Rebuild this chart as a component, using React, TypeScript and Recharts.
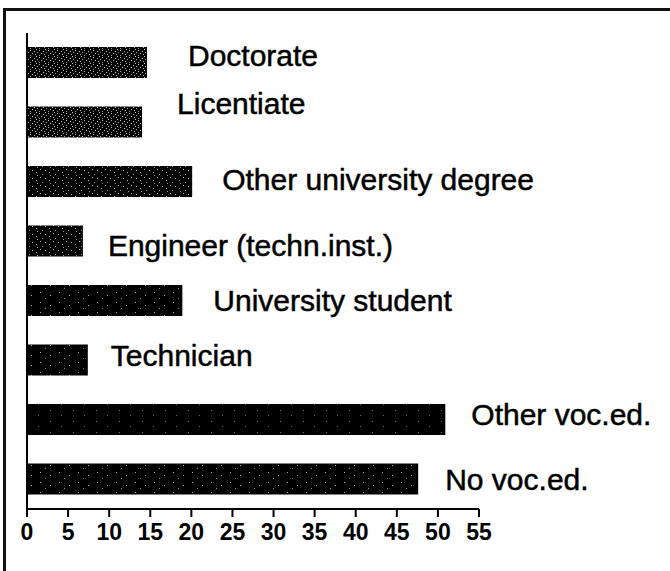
import { Bar, BarChart, Cell, LabelList, ReferenceLine, XAxis, YAxis } from 'recharts'

const categories = [
  'Doctorate',
  'Licentiate',
  'Other university degree',
  'Engineer (techn.inst.)',
  'University student',
  'Technician',
  'Other voc.ed.',
  'No voc.ed.',
]

const shares = [14.6, 14.0, 20.1, 6.8, 18.9, 7.4, 50.9, 47.6]

const xTicks = [0, 5, 10, 15, 20, 25, 30, 35, 40, 45, 50, 55]

// hand-placed labels in the original, nudged per bar: [gap after bar, vertical shift]
const labelShift: [number, number][] = [
  [41, -7],
  [35, -19],
  [30, -2],
  [25, 4],
  [31, 0],
  [23, -5],
  [26, -5],
  [27, 0],
]

const barPattern = ['dense', 'dense', 'medium', 'medium', 'sparse', 'sparse', 'solid', 'sparse']

const data = categories.map((label, i) => ({ label, value: shares[i] }))

const font = '"Liberation Sans", Arial, Helvetica, sans-serif'

function BarLabel(props: any) {
  const { x, y, width, height, value } = props
  const i = categories.indexOf(value)
  const [dx, dy] = labelShift[i] ?? [28, 0]
  return (
    <text
      x={Number(x) + Number(width) + dx}
      y={Number(y) + Number(height) / 2 + dy}
      dominantBaseline="central"
      fontSize={30}
      fontFamily={font}
      fill="#000"
      stroke="#000"
      strokeWidth={0.5}
    >
      {value}
    </text>
  )
}

export default function App() {
  return (
    <div style={{ position: 'absolute', left: 0, top: 0, width: 670, height: 571, background: '#fff' }}>
      <div
        style={{
          position: 'absolute',
          left: 3,
          top: 8,
          width: 667,
          height: 563,
          borderTop: '3px solid #111',
          borderLeft: '3px solid #111',
          boxSizing: 'border-box',
        }}
      />
      <div style={{ position: 'absolute', left: 0, top: 0 }}>
        <BarChart
          width={670}
          height={571}
          data={data}
          layout="vertical"
          margin={{ top: 33, right: 191, bottom: 22, left: 27 }}
        >
          <defs>
            <pattern id="dense" width="9" height="7" patternUnits="userSpaceOnUse">
              <rect width="9" height="7" fill="#000" />
              <rect x="0" y="0" width="1" height="1" fill="#ccc" />
              <rect x="3" y="1" width="1" height="1" fill="#bbb" />
              <rect x="7" y="2" width="1" height="1" fill="#ccc" />
              <rect x="1" y="3" width="1" height="1" fill="#aaa" />
              <rect x="5" y="4" width="1" height="1" fill="#ccc" />
              <rect x="8" y="5" width="1" height="1" fill="#bbb" />
              <rect x="3" y="6" width="1" height="1" fill="#999" />
            </pattern>
            <pattern id="medium" width="13" height="8" patternUnits="userSpaceOnUse">
              <rect width="13" height="8" fill="#000" />
              <rect x="1" y="1" width="1" height="1" fill="#bbb" />
              <rect x="6" y="2" width="1" height="1" fill="#bbb" />
              <rect x="10" y="4" width="1" height="1" fill="#bbb" />
              <rect x="3" y="6" width="1" height="1" fill="#999" />
              <rect x="11" y="7" width="1" height="1" fill="#999" />
            </pattern>
            <pattern id="sparse" width="19" height="10" patternUnits="userSpaceOnUse">
              <rect width="19" height="10" fill="#000" />
              <rect x="2" y="2" width="1" height="1" fill="#aaa" />
              <rect x="12" y="5" width="1" height="1" fill="#aaa" />
              <rect x="7" y="8" width="1" height="1" fill="#888" />
            </pattern>
            <pattern id="solid" width="23" height="11" patternUnits="userSpaceOnUse">
              <rect width="23" height="11" fill="#000" />
              <rect x="4" y="3" width="1" height="1" fill="#777" />
              <rect x="15" y="8" width="1" height="1" fill="#666" />
            </pattern>
          </defs>
          <XAxis
            type="number"
            domain={[0, 55]}
            ticks={xTicks}
            interval={0}
            height={40}
            tickSize={8}
            tickMargin={7}
            axisLine={{ stroke: '#000', strokeWidth: 2 }}
            tickLine={{ stroke: '#000', strokeWidth: 2 }}
            tick={{ fontSize: 23, fontWeight: 'bold', fill: '#000', fontFamily: font }}
          />
          <YAxis type="category" dataKey="label" hide />
          <ReferenceLine x={0} stroke="#000" strokeWidth={2} ifOverflow="visible" />
          <Bar dataKey="value" barSize={31} isAnimationActive={false}>
            {data.map((d, i) => (
              <Cell key={d.label} fill={`url(#${barPattern[i]})`} />
            ))}
            <LabelList dataKey="label" content={BarLabel} />
          </Bar>
        </BarChart>
      </div>
    </div>
  )
}
